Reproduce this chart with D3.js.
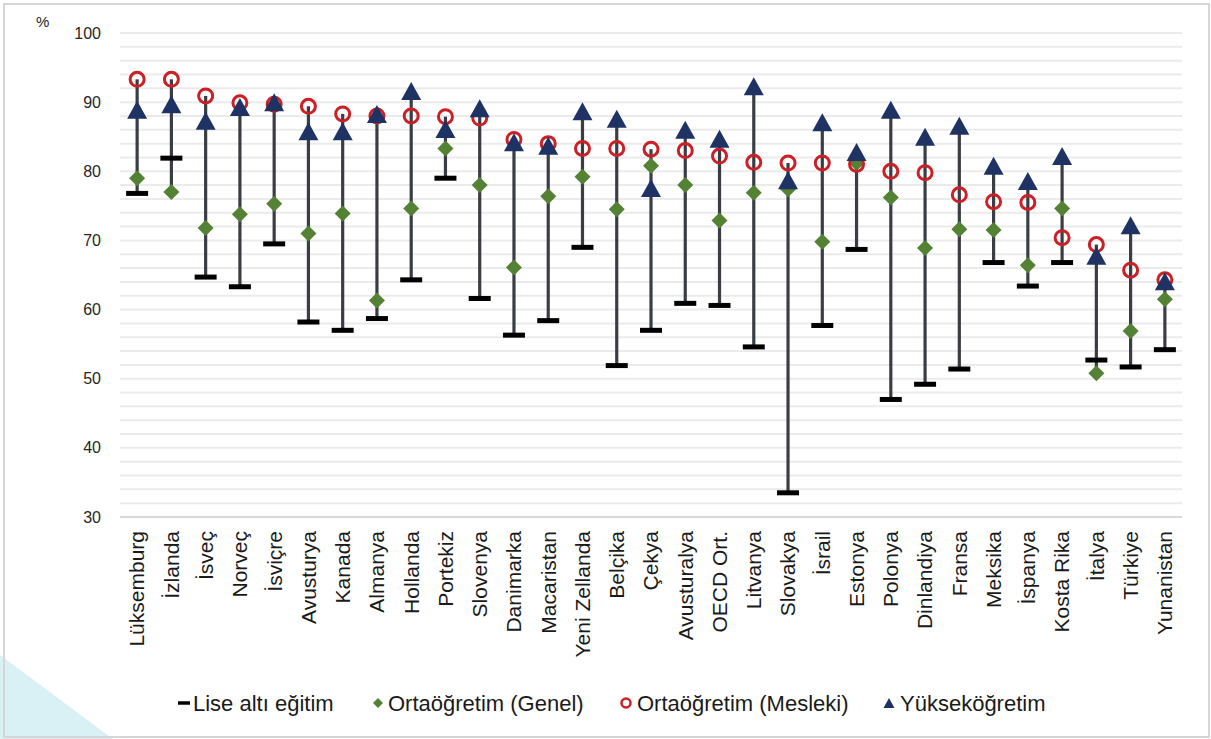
<!DOCTYPE html>
<html>
<head>
<meta charset="utf-8">
<script src="https://cdn.jsdelivr.net/npm/d3@7"></script>
<style>
  html, body { margin: 0; padding: 0; background: #fff; }
  svg { display: block; font-family: "Liberation Sans", Arial, sans-serif; }
</style>
</head>
<body>
<svg id="chart" width="1211" height="739"></svg>
<script>
const categories = ["Lüksemburg","İzlanda","İsveç","Norveç","İsviçre","Avusturya","Kanada","Almanya","Hollanda","Portekiz","Slovenya","Danimarka","Macaristan","Yeni Zellanda","Belçika","Çekya","Avusturalya","OECD Ort.","Litvanya","Slovakya","İsrail","Estonya","Polonya","Dinlandiya","Fransa","Meksika","İspanya","Kosta Rika","İtalya","Türkiye","Yunanistan"];
const liseAlti = [76.8, 81.9, 64.7, 63.3, 69.5, 58.2, 57.0, 58.7, 64.3, 79.0, 61.6, 56.3, 58.4, 69.0, 51.9, 57.0, 60.9, 60.6, 54.6, 33.5, 57.7, 68.7, 47.0, 49.2, 51.4, 66.8, 63.4, 66.8, 52.7, 51.7, 54.2];
const genel    = [79.0, 77.0, 71.8, 73.8, 75.3, 71.0, 73.9, 61.3, 74.6, 83.3, 78.0, 66.1, 76.4, 79.2, 74.5, 80.8, 78.0, 72.9, 76.9, 77.4, 69.8, 81.2, 76.2, 68.9, 71.6, 71.5, 66.4, 74.6, 50.8, 56.9, 61.5];
const mesleki  = [93.3, 93.3, 90.9, 89.9, 89.7, 89.4, 88.3, 88.0, 88.0, 87.9, 87.7, 84.6, 84.0, 83.3, 83.3, 83.2, 83.0, 82.2, 81.3, 81.2, 81.2, 81.0, 80.0, 79.8, 76.6, 75.6, 75.5, 70.4, 69.4, 65.7, 64.3];
const yuksek   = [88.9, 89.7, 87.3, 89.3, 90.0, 85.8, 85.8, 88.3, 91.6, 86.1, 89.1, 84.2, 83.7, 88.7, 87.6, 77.6, 86.0, 84.7, 92.3, 78.7, 87.1, 82.8, 88.9, 85.0, 86.6, 80.8, 78.6, 82.2, 67.8, 72.2, 64.1];
const yTicks = [30, 40, 50, 60, 70, 80, 90, 100];
const seriesNames = ["Lise altı eğitim", "Ortaöğretim (Genel)", "Ortaöğretim (Mesleki)", "Yükseköğretim"];

const colors = { dash: "#000000", diamond: "#548235", circle: "#cc1f26", triangle: "#1f3264", line: "#3a3e44" };

const svg = d3.select("#chart");

// decorative slide corner + frame
svg.append("path").attr("d", "M0,655 L113,739 L0,739 Z").attr("fill", "#d9f1f5");
svg.append("rect").attr("x", 4).attr("y", 4).attr("width", 1205).attr("height", 733)
  .attr("fill", "none").attr("stroke", "#d6d6d6").attr("stroke-width", 2);

const x = d3.scaleBand().domain(categories).range([120, 1182]).padding(0);
const y = d3.scaleLinear().domain([30, 100]).range([517, 33]);
const cx = c => x(c) + x.bandwidth() / 2;

// gridlines every 2
const grid = d3.range(30, 100.01, 2);
svg.append("g").selectAll("line").data(grid).join("line")
  .attr("x1", 120).attr("x2", 1182)
  .attr("y1", d => y(d)).attr("y2", d => y(d))
  .attr("stroke", d => d === 30 ? "#d9d9d9" : "#ebebeb").attr("stroke-width", 2);

// y axis
const yAxis = d3.axisLeft(y).tickValues(yTicks).tickSize(0).tickPadding(0);
const gy = svg.append("g").attr("transform", "translate(101,0)").call(yAxis);
gy.select(".domain").remove();
gy.selectAll("text").attr("font-size", 16).attr("fill", "#262626")
  .attr("font-family", "Liberation Sans, Arial, sans-serif");

svg.append("text").attr("x", 36).attr("y", 27).attr("font-size", 15).attr("fill", "#262626").text("%");

// x axis labels
const xAxis = d3.axisBottom(x).tickSize(0).tickPadding(0);
const gx = svg.append("g").attr("transform", "translate(0,531)").call(xAxis);
gx.select(".domain").remove();
gx.selectAll("text")
  .attr("font-size", 21).attr("fill", "#1a1a1a")
  .attr("font-family", "Liberation Sans, Arial, sans-serif")
  .attr("text-anchor", "end")
  .attr("transform", "rotate(-90)")
  .attr("x", 0).attr("y", 0).attr("dy", "0.35em");

// high-low lines
const rows = categories.map((c, i) => ({ c, vals: [liseAlti[i], genel[i], mesleki[i], yuksek[i]] }));
svg.append("g").selectAll("line").data(rows).join("line")
  .attr("x1", d => cx(d.c)).attr("x2", d => cx(d.c))
  .attr("y1", d => y(d3.min(d.vals))).attr("y2", d => y(d3.max(d.vals)))
  .attr("stroke", colors.line).attr("stroke-width", 3.2);

// series markers
const dashP = (w, h) => `M${-w/2},${-h/2}h${w}v${h}h${-w}Z`;
const diamondP = s => `M0,${-s}L${s},0L0,${s}L${-s},0Z`;
const triP = (w, h) => `M0,${-h/2}L${w/2},${h/2}L${-w/2},${h/2}Z`;

svg.append("g").selectAll("path").data(categories).join("path")
  .attr("d", dashP(22, 5)).attr("fill", colors.dash)
  .attr("transform", (c, i) => `translate(${cx(c)},${y(liseAlti[i])})`);

svg.append("g").selectAll("path").data(categories).join("path")
  .attr("d", diamondP(8)).attr("fill", colors.diamond)
  .attr("transform", (c, i) => `translate(${cx(c)},${y(genel[i])})`);

svg.append("g").selectAll("circle").data(categories).join("circle")
  .attr("cx", c => cx(c)).attr("cy", (c, i) => y(mesleki[i])).attr("r", 7)
  .attr("fill", "none").attr("stroke", colors.circle).attr("stroke-width", 3);

svg.append("g").selectAll("path").data(categories).join("path")
  .attr("d", triP(20, 18)).attr("fill", colors.triangle)
  .attr("transform", (c, i) => `translate(${cx(c)},${y(yuksek[i])})`);

// legend
const legendY = 703;
const legendItems = [
  { name: seriesNames[0], sx: 184, tx: 193, sym: g => g.append("path").attr("d", dashP(12, 3.5)).attr("fill", colors.dash) },
  { name: seriesNames[1], sx: 378, tx: 388, sym: g => g.append("path").attr("d", diamondP(5)).attr("fill", colors.diamond) },
  { name: seriesNames[2], sx: 626, tx: 637, sym: g => g.append("circle").attr("r", 4.5).attr("fill", "none").attr("stroke", colors.circle).attr("stroke-width", 2.5) },
  { name: seriesNames[3], sx: 889, tx: 900, sym: g => g.append("path").attr("d", triP(11, 10)).attr("fill", colors.triangle) }
];
const lg = svg.append("g");
legendItems.forEach(it => {
  const g = lg.append("g").attr("transform", `translate(${it.sx},${legendY})`);
  it.sym(g);
  lg.append("text").attr("x", it.tx).attr("y", legendY).attr("dy", "0.35em")
    .attr("font-size", 22).attr("fill", "#1a1a1a").text(it.name);
});
</script>
</body>
</html>
